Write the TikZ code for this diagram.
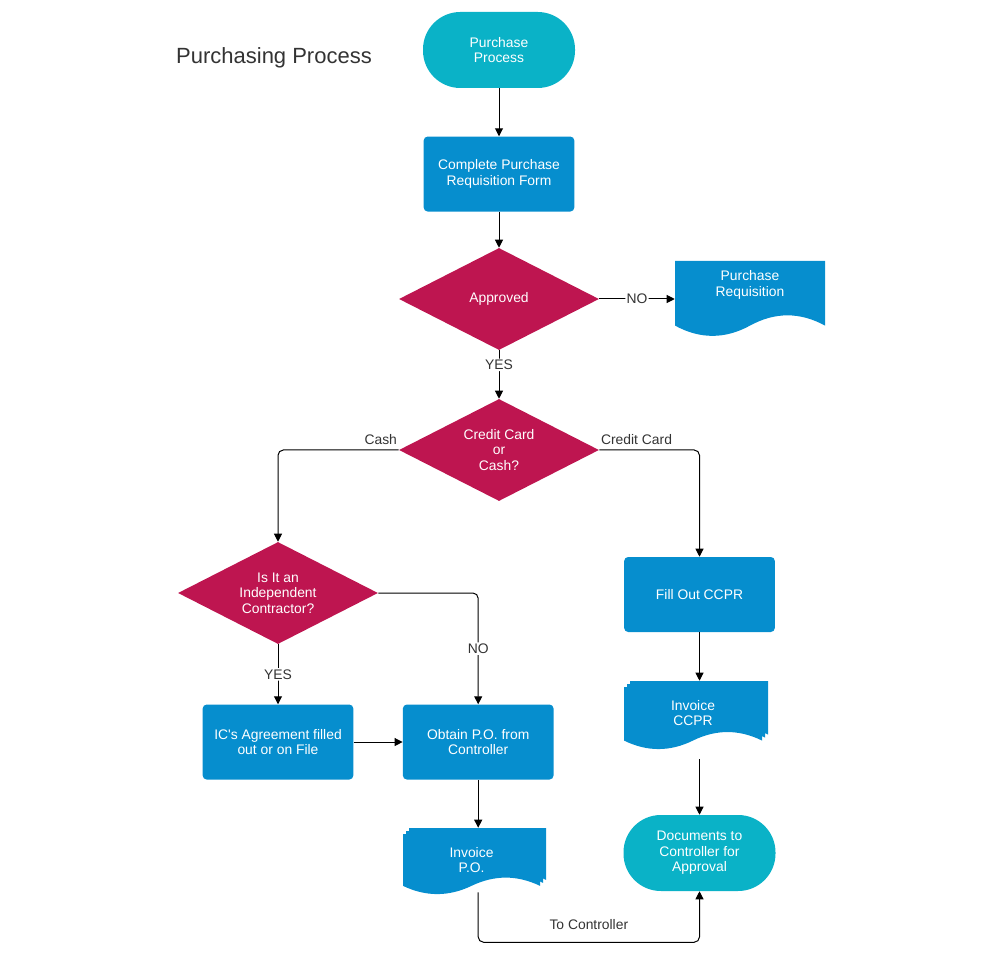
\documentclass[tikz,border=0pt]{standalone}
\usepackage{fontspec}
\setmainfont{Liberation Sans}
\usetikzlibrary{shapes.geometric,positioning,arrows.meta,calc}

\definecolor{termteal}{HTML}{0AB2C7}
\definecolor{procblue}{HTML}{068ECE}
\definecolor{decred}{HTML}{BE1550}
\definecolor{labelgray}{HTML}{333333}

% document sheet: left, top, width, height (px)
\newcommand{\docshape}[4]{%
  \fill[procblue] ({#1},{#2}) -- ({#1+#3},{#2}) -- ({#1+#3},{#2+0.85*#4})
    .. controls ({#1+0.8333*#3},{#2+0.67*#4}) and ({#1+0.6667*#3},{#2+0.67*#4}) .. ({#1+0.5*#3},{#2+0.85*#4})
    .. controls ({#1+0.3333*#3},{#2+1.03*#4}) and ({#1+0.1667*#3},{#2+1.03*#4}) .. ({#1},{#2+0.85*#4}) -- cycle;}
\newcommand{\multidoc}[4]{%
  \docshape{#1+6}{#2-6}{#3}{#4}
  \docshape{#1+3}{#2-3}{#3}{#4}
  \docshape{#1}{#2}{#3}{#4}}

\begin{document}
\begin{tikzpicture}[
    x=0.75pt, y=-0.75pt,
    every node/.style={font=\fontsize{10.4}{11.6}\selectfont},
    terminal/.style={rectangle, rounded corners=28pt, fill=termteal, text=white, align=center, minimum width=114pt, minimum height=57pt},
    process/.style={rectangle, rounded corners=3pt, fill=procblue, text=white, align=center, minimum width=113pt, minimum height=56.25pt},
    decision/.style={diamond, aspect=2, inner sep=0pt, fill=decred, text=white, align=center, minimum width=150pt, minimum height=76.5pt},
    doctext/.style={text=white, align=center},
    flow/.style={-{Triangle[length=6pt,width=6pt]}, line width=0.75pt, rounded corners=4pt},
    elabel/.style={text=labelgray, fill=white, inner sep=1pt},
    sidelabel/.style={text=labelgray, inner xsep=1pt, inner ysep=3.5pt}
]
    \useasboundingbox (0,0) rectangle (1000,955);

    \node[font=\fontsize{16.5}{19}\selectfont, text=labelgray] (title) at (274,58) {Purchasing Process};

    \node[terminal] (start) at (499,50) {Purchase\\Process};
    \node[process, below=36pt of start] (reqform) {Complete Purchase\\Requisition Form};
    \node[decision] (approved) at (499,299) {Approved};
    \node[decision] (paytype) at (499,450) {Credit Card\\or\\Cash?};
    \node[decision] (contractor) at (278,593) {Is It an\\Independent\\Contractor?};
    \node[process, below=45pt of contractor] (icagree) {IC\textquotesingle s Agreement filled\\out or on File};
    \node[process, right=36.75pt of icagree] (obtainpo) {Obtain P.O. from\\Controller};
    \node[process] (ccpr) at (699.5,594.5) {Fill Out CCPR};
    \node[terminal] (docs) at (699.5,853) {Documents to\\Controller for\\Approval};

    \docshape{675}{261}{150}{76}
    \node[doctext, minimum width=112.5pt, minimum height=36pt] (prdoc) at (750,285) {Purchase\\Requisition};
    \multidoc{403}{834}{137}{61}
    \node[doctext, minimum width=107pt, minimum height=48pt] (invpo) at (471.5,860) {Invoice\\P.O.};
    \multidoc{624}{687}{138}{63}
    \node[doctext, minimum width=108pt, minimum height=48pt] (invccpr) at (693,713) {Invoice\\CCPR};

    \draw[flow] (start) -- (reqform);
    \draw[flow] (reqform) -- (approved);
    \draw[flow] (approved.east) -- (approved.east -| prdoc.west) node[elabel, midway] {NO};
    \draw[flow] (approved) -- (paytype) node[elabel, pos=0.3] {YES};
    \draw[flow] (paytype.west) -| (contractor.north) node[sidelabel, at start, anchor=south east] {Cash};
    \draw[flow] (paytype.east) -| (ccpr.north) node[sidelabel, at start, anchor=south west] {Credit Card};
    \draw[flow] (contractor) -- (icagree) node[elabel, midway] {YES};
    \draw[flow] (contractor.east) -| (obtainpo.north) node[elabel, pos=0.75] {NO};
    \draw[flow] (icagree) -- (obtainpo);
    \draw[flow] (obtainpo.south) -- (obtainpo.south |- invpo.north);
    \draw[flow] (ccpr.south) -- (ccpr.south |- invccpr.north);
    \draw[flow] ($(ccpr.south |- invccpr.south)+(0,14)$) -- (docs.north);
    \draw[flow] (obtainpo.south |- invpo.south) -- ++(0,50) -| (docs.south) node[sidelabel, pos=0.25, above=5.5pt] {To Controller};
\end{tikzpicture}
\end{document}
